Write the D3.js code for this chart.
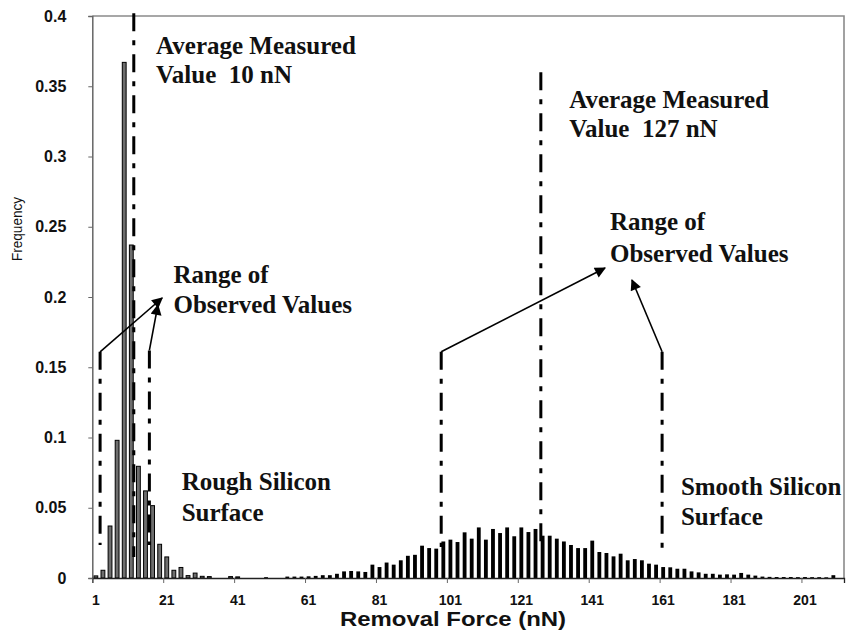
<!DOCTYPE html>
<html><head><meta charset="utf-8">
<script src="https://cdn.jsdelivr.net/npm/d3@7"></script>
<style>body{margin:0;background:#fff} svg{display:block}
.note{font-family:"Liberation Serif","Times New Roman",serif;font-weight:bold}
.sans{font-family:"Liberation Sans",Arial,sans-serif}</style>
</head><body>
<svg id="chart" width="846" height="638"></svg>
<script>
// ---------------- data ----------------
const categories = [1,3,5,7,9,11,13,15,17,19,21,23,25,27,29,31,33,35,37,39,
  41,43,45,47,49,51,53,55,57,59,61,63,65,67,69,71,73,75,77,79,
  81,83,85,87,89,91,93,95,97,99,101,103,105,107,109,111,113,115,117,119,
  121,123,125,127,129,131,133,135,137,139,141,143,145,147,149,151,153,155,157,159,
  161,163,165,167,169,171,173,175,177,179,181,183,185,187,189,191,193,195,197,199,
  201,203,205,207,209,211];

const roughValues = [0.0015,0.0055,0.037,0.098,0.367,0.237,0.0795,0.062,0.0515,0.024,
  0.015,0.0055,0.0075,0.0017,0.0035,0.0012,0.001,0,0,0.001,
  0.0008,0,0,0,0,0,0,0,0,0,
  0,0,0,0,0,0,0,0,0,0,
  0,0,0,0,0,0,0,0,0,0,
  0,0,0,0,0,0,0,0,0,0,
  0,0,0,0,0,0,0,0,0,0,
  0,0,0,0,0,0,0,0,0,0,
  0,0,0,0,0,0,0,0,0,0,
  0,0,0,0,0,0,0,0,0,0,
  0,0,0,0,0,0];

const smoothValues = [0,0,0,0,0,0,0,0,0,0,
  0,0,0,0,0,0,0,0,0,0,
  0,0,0,0,0.0006,0,0,0.001,0.001,0.001,
  0.0012,0.0015,0.002,0.002,0.003,0.0047,0.005,0.0047,0.0043,0.0095,
  0.0078,0.011,0.0095,0.0126,0.0158,0.0165,0.023,0.0213,0.0209,0.026,
  0.0273,0.0256,0.0325,0.028,0.036,0.0273,0.0349,0.032,0.036,0.0297,
  0.036,0.0327,0.0349,0.0301,0.0301,0.028,0.026,0.0235,0.0213,0.0213,
  0.0266,0.0185,0.0178,0.0154,0.0173,0.0126,0.0135,0.0126,0.0102,0.0095,
  0.0078,0.0076,0.0066,0.0066,0.0047,0.004,0.003,0.003,0.0024,0.0026,
  0.0024,0.0036,0.0024,0.0017,0.001,0.0008,0.0007,0.0007,0.0007,0.0006,
  0.0007,0.0006,0.0006,0.0005,0.002,0];

const yTicks = [0,0.05,0.1,0.15,0.2,0.25,0.3,0.35,0.4];
const yTickLabels = ["0","0.05","0.1","0.15","0.2","0.25","0.3","0.35","0.4"];
const xTickLabels = ["1","21","41","61","81","101","121","141","161","181","201"];
const xTickMarks = [0,20,40,60,80,100,120,140,160,180,200];

// annotation lines (force in nN, frequency)
const averageLines = [
  {force: 11.7, top: 0.402, bottom: 0.015},
  {force: 126.5, top: 0.36, bottom: 0.02}
];
const rangeLines = [
  {force: 2.2, top: 0.161, bottom: 0.0235},
  {force: 16.1, top: 0.162, bottom: 0.0235},
  {force: 98.4, top: 0.161, bottom: 0.022},
  {force: 160.7, top: 0.161, bottom: 0.021}
];
const arrows = [
  {f1: 2.2, v1: 0.161, f2: 19.7, v2: 0.1993},
  {f1: 16.1, v1: 0.162, f2: 18.5, v2: 0.1943},
  {f1: 98.4, v1: 0.161, f2: 144.6, v2: 0.2206},
  {f1: 160.7, v1: 0.161, f2: 152.2, v2: 0.2121}
];
const notes = [
  {text: "Average Measured", force: 18.0, freq: 0.373},
  {text: "Value  10 nN", force: 18.0, freq: 0.3523},
  {text: "Range of", force: 22.9, freq: 0.21},
  {text: "Observed Values", force: 22.9, freq: 0.1886},
  {text: "Rough Silicon", force: 25.2, freq: 0.0626},
  {text: "Surface", force: 25.2, freq: 0.0406},
  {text: "Average Measured", force: 134.5, freq: 0.3345},
  {text: "Value  127 nN", force: 134.5, freq: 0.3139},
  {text: "Range of", force: 146, freq: 0.2477},
  {text: "Observed Values", force: 146, freq: 0.2249},
  {text: "Smooth Silicon", force: 166.0, freq: 0.0591},
  {text: "Surface", force: 166.0, freq: 0.0377}
];

(function () {
// ---------------- layout ----------------
const mLeft = 92.3, mRight = 844, mTop = 16, mBottom = 578;
const svg = d3.select("#chart");

const x = d3.scaleBand().domain(categories).range([mLeft, mRight])
  .paddingInner(0.46).paddingOuter(0.23);
const xLin = d3.scaleLinear().domain([0, 2 * categories.length]).range([mLeft, mRight]);
const y = d3.scaleLinear().domain([0, 0.4]).range([mBottom, mTop]);

// plot border (top & right)
svg.append("path")
  .attr("d", `M${mLeft},${mTop}H${mRight}V${mBottom}`)
  .attr("fill", "none").attr("stroke", "#8a8a8a").attr("stroke-width", 1.6);

// bars
const roughData = categories.map((c, i) => ({c, v: roughValues[i]})).filter(d => d.v > 0);
const smoothData = categories.map((c, i) => ({c, v: smoothValues[i]})).filter(d => d.v > 0);

svg.append("g").selectAll("rect").data(smoothData).join("rect")
  .attr("x", d => x(d.c)).attr("width", x.bandwidth())
  .attr("y", d => y(d.v)).attr("height", d => y(0) - y(d.v))
  .attr("fill", "#000");

svg.append("g").selectAll("rect").data(roughData).join("rect")
  .attr("x", d => x(d.c)).attr("width", x.bandwidth())
  .attr("y", d => y(d.v)).attr("height", d => y(0) - y(d.v))
  .attr("fill", "#6e6e6e").attr("stroke", "#000").attr("stroke-width", 1);

// y axis
const yAxis = svg.append("g").attr("transform", `translate(${mLeft},0)`)
  .call(d3.axisLeft(y).tickValues(yTicks).tickFormat((d, i) => yTickLabels[i])
    .tickSize(4).tickPadding(22));
yAxis.attr("font-family", null);
yAxis.select(".domain").attr("stroke", "#666").attr("stroke-width", 1.5);
yAxis.selectAll(".tick line").attr("stroke", "#666");
yAxis.selectAll("text").attr("class", "sans")
  .attr("font-weight", "bold").attr("font-size", 16).attr("fill", "#111");

// x axis: tick marks between categories
const xMarks = svg.append("g").attr("transform", `translate(0,${mBottom})`)
  .call(d3.axisBottom(xLin).tickValues(xTickMarks).tickFormat("").tickSize(5));
xMarks.select(".domain").attr("stroke", "#222").attr("stroke-width", 1.3);
xMarks.selectAll(".tick line").attr("stroke", "#666");

// x axis labels at category centres
const xLabels = svg.append("g").attr("transform", `translate(0,${mBottom})`)
  .call(d3.axisBottom(x).tickValues(categories.filter((c, i) => i % 10 === 0))
    .tickFormat((d, i) => xTickLabels[i]).tickSize(0).tickPadding(17));
xLabels.select(".domain").remove();
xLabels.attr("font-family", null);
xLabels.selectAll("text").attr("class", "sans")
  .attr("font-weight", "bold").attr("font-size", 14).attr("fill", "#111");

// axis titles
svg.append("text").attr("class", "sans").attr("x", 453).attr("y", 626).attr("text-anchor", "middle")
  .attr("font-weight", "bold")
  .attr("font-size", 20).attr("textLength", 226).attr("lengthAdjust", "spacingAndGlyphs")
  .attr("fill", "#111").text("Removal Force (nN)");
svg.append("text").attr("class", "sans").attr("transform", "translate(22,229) rotate(-90)")
  .attr("text-anchor", "middle")
  .attr("font-size", 15).attr("textLength", 64).attr("lengthAdjust", "spacingAndGlyphs")
  .attr("fill", "#111").text("Frequency");

// dashed annotation lines
const dash = "18,9,5,9";
svg.append("g").selectAll("line").data(averageLines.concat(rangeLines)).join("line")
  .attr("x1", d => xLin(d.force)).attr("x2", d => xLin(d.force))
  .attr("y1", d => y(d.top)).attr("y2", d => y(d.bottom))
  .attr("stroke", "#000").attr("stroke-width", 3).attr("stroke-dasharray", dash);

// arrows
svg.append("defs").append("marker").attr("id", "ah")
  .attr("viewBox", "0 0 10 10").attr("refX", 9).attr("refY", 5)
  .attr("markerUnits", "userSpaceOnUse").attr("markerWidth", 13).attr("markerHeight", 11)
  .attr("orient", "auto")
  .append("path").attr("d", "M0,0L10,5L0,10Z").attr("fill", "#000");
svg.append("g").selectAll("line").data(arrows).join("line")
  .attr("x1", d => xLin(d.f1)).attr("y1", d => y(d.v1))
  .attr("x2", d => xLin(d.f2)).attr("y2", d => y(d.v2))
  .attr("stroke", "#000").attr("stroke-width", 1.6).attr("marker-end", "url(#ah)");

// text notes
svg.append("g").selectAll("text").data(notes).join("text")
  .attr("class", "note")
  .attr("x", d => xLin(d.force)).attr("y", d => y(d.freq))
  .attr("font-size", 25).attr("fill", "#111")
  .style("white-space", "pre")
  .text(d => d.text);
})();
</script>
</body></html>
